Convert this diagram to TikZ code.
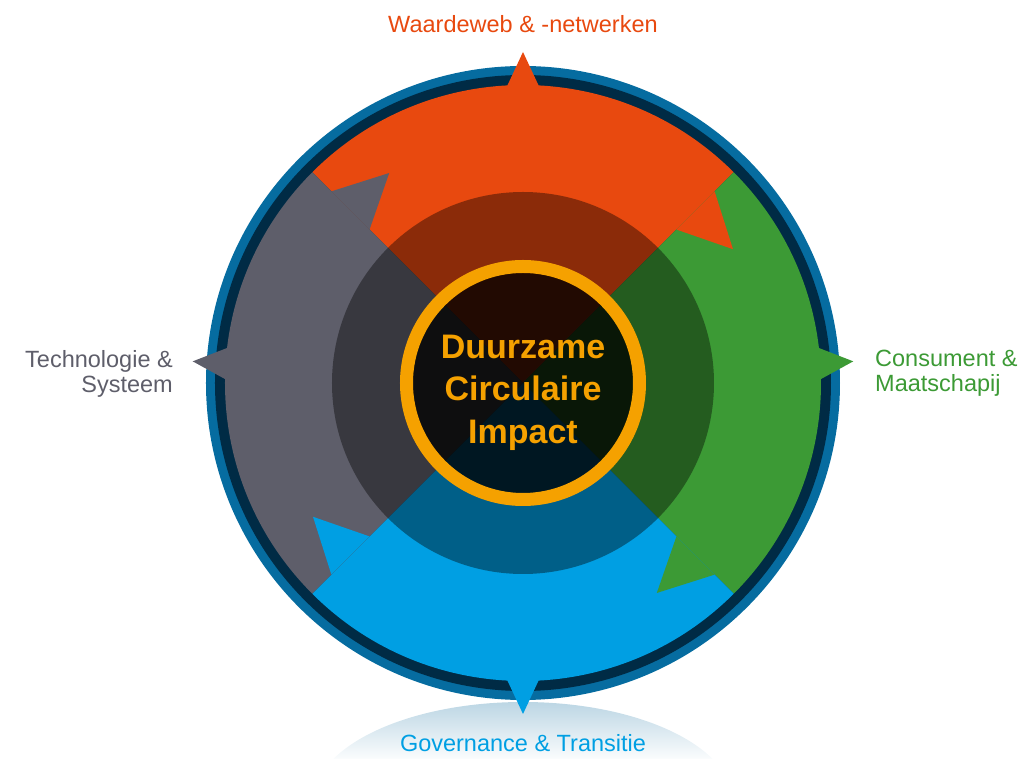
\documentclass[tikz,border=0pt]{standalone}
\usepackage{fontspec}
\setmainfont{Liberation Sans}
\usetikzlibrary{positioning}

\definecolor{waardeorange}{HTML}{E8490F}
\definecolor{consumentgreen}{HTML}{3C9A35}
\definecolor{governanceblue}{HTML}{009FE3}
\definecolor{technogray}{HTML}{5E5E6A}
\definecolor{ringblue}{HTML}{066CA0}
\definecolor{ringnavy}{HTML}{002B45}
\definecolor{impactyellow}{HTML}{F5A100}
\definecolor{glowblue}{HTML}{BCD6E4}

% one quarter of the wheel, #2 = middle angle
\newcommand{\wheelpart}[2]{%
  \fill[#1] (0,0) -- ({#2+45}:298) arc[start angle={#2+45}, end angle={#2-45}, radius=298] -- cycle;}
% arrow head at the clockwise end
\newcommand{\wheelhead}[2]{%
  \fill[#1] ({#2-45}:271) -- ({#2-57.5}:249) -- ({#2-45}:217) -- cycle;}
% small outward tip
\newcommand{\wheeltip}[2]{%
  \fill[#1] ({#2-3.2}:296) -- (#2:331) -- ({#2+3.2}:296) -- cycle;}

\begin{document}
\begin{tikzpicture}[x=1pt,y=1pt,
    labeltext/.style={inner sep=0pt, font=\fontsize{23.5}{25}\selectfont},
    impacttext/.style={inner sep=0pt, align=center, text=impactyellow,
      font=\fontsize{34}{42.5}\selectfont\bfseries}]

  \useasboundingbox (-523,-376) rectangle (498,383);

  % glow under the wheel
  \begin{scope}
    \clip (0,-419) ellipse[x radius=210, y radius=100];
    \shade[top color=glowblue, bottom color=white] (-215,-319) rectangle (215,-380);
  \end{scope}

  % rings
  \fill[ringblue] (0,0) circle[radius=317];
  \fill[ringnavy] (0,0) circle[radius=308];

  % four parts
  \wheelpart{waardeorange}{90}
  \wheelpart{consumentgreen}{0}
  \wheelpart{governanceblue}{270}
  \wheelpart{technogray}{180}

  \wheelhead{waardeorange}{90}
  \wheelhead{consumentgreen}{0}
  \wheelhead{governanceblue}{270}
  \wheelhead{technogray}{180}

  \wheeltip{waardeorange}{90}
  \wheeltip{consumentgreen}{3.75}
  \wheeltip{governanceblue}{270}
  \wheeltip{technogray}{176.25}

  % darker core
  \fill[black, opacity=.4] (0,0) circle[radius=191];
  \fill[black, opacity=.75] (0,0) circle[radius=117];
  \draw[impactyellow, line width=13] (0,0) circle[radius=116.5];

  \node[impacttext] (impact) at (0,-9.5) {Duurzame\\Circulaire\\Impact};

  \node[labeltext, text=waardeorange, anchor=base] (waarde) at (0,350) {Waardeweb \& -netwerken};
  \node[labeltext, text=technogray, align=right, anchor=north east] (techno) at (-350,33) {Technologie \&\\Systeem};
  \node[labeltext, text=consumentgreen, align=left, anchor=north west] (consument) at (352,33) {Consument \&\\Maatschapij};
  \node[labeltext, text=governanceblue, anchor=base] (governance) at (0,-369) {Governance \& Transitie};

\end{tikzpicture}
\end{document}
